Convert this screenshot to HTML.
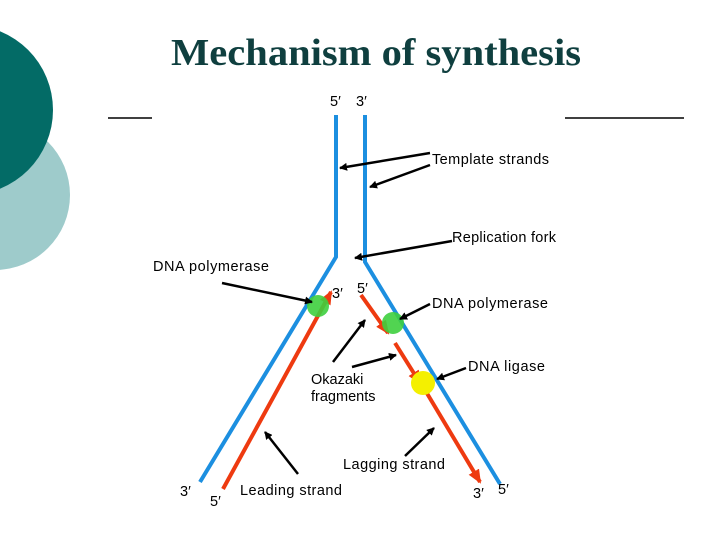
<!DOCTYPE html>
<html><head><style>
body{margin:0;width:720px;height:540px;background:#fff;overflow:hidden;font-family:"Liberation Sans",sans-serif}
</style></head><body>
<svg width="720" height="540" viewBox="0 0 720 540" xmlns="http://www.w3.org/2000/svg">
<defs>
<marker id="bk" markerWidth="8" markerHeight="8" refX="7" refY="4" orient="auto" markerUnits="userSpaceOnUse"><path d="M0,0 L8,4 L0,8 Z" fill="#000"/></marker>
<marker id="rd" markerWidth="14" markerHeight="12" refX="12" refY="6" orient="auto" markerUnits="userSpaceOnUse"><path d="M0,0 L14,6 L0,12 Z" fill="#ee3a10"/></marker>
</defs>
<circle cx="-5" cy="195" r="75" fill="#9ecbcb"/>
<circle cx="-32" cy="110" r="85" fill="#036b66"/>
<text x="376" y="65" text-anchor="middle" font-family="Liberation Serif,serif" font-weight="bold" font-size="38" fill="#0f3f3f" textLength="410" lengthAdjust="spacingAndGlyphs">Mechanism of synthesis</text>
<line x1="108" y1="118" x2="152" y2="118" stroke="#000" stroke-width="1.5"/>
<line x1="565" y1="118" x2="684" y2="118" stroke="#000" stroke-width="1.5"/>
<g fill="none" stroke="#1c8fe0" stroke-width="4">
<polyline points="336,115 336,257 200,482"/>
<polyline points="365,115 365,262 500,484"/>
</g>
<g stroke="#ee3a10" stroke-width="4" fill="none">
<line x1="223" y1="489" x2="331" y2="292" marker-end="url(#rd)"/>
<line x1="361" y1="295" x2="388" y2="333" marker-end="url(#rd)"/>
<line x1="395" y1="343" x2="420" y2="383" marker-end="url(#rd)"/>
<line x1="425" y1="390" x2="480" y2="482" marker-end="url(#rd)"/>
</g>
<circle cx="318" cy="306" r="11" fill="#3ecf3e" opacity="0.9"/>
<circle cx="393" cy="323" r="11" fill="#3ecf3e" opacity="0.9"/>
<circle cx="423" cy="383" r="12" fill="#f4f000"/>
<g stroke="#000" stroke-width="2.5" marker-end="url(#bk)">
<line x1="430" y1="153" x2="340" y2="168"/>
<line x1="430" y1="165" x2="370" y2="187"/>
<line x1="452" y1="241" x2="355" y2="258"/>
<line x1="222" y1="283" x2="312" y2="302"/>
<line x1="430" y1="304" x2="400" y2="319"/>
<line x1="333" y1="362" x2="365" y2="320"/>
<line x1="352" y1="367" x2="396" y2="355"/>
<line x1="466" y1="368" x2="437" y2="379"/>
<line x1="405" y1="456" x2="434" y2="428"/>
<line x1="298" y1="474" x2="265" y2="432"/>
</g>
<g font-size="14.5" fill="#000">
<text x="330" y="106">5′</text><text x="356" y="106">3′</text>
<text x="432" y="164" textLength="117">Template strands</text>
<text x="452" y="242" textLength="104">Replication fork</text>
<text x="153" y="271" textLength="116">DNA polymerase</text>
<text x="332" y="298">3′</text><text x="357" y="293">5′</text>
<text x="432" y="308" textLength="116">DNA polymerase</text>
<text x="468" y="371" textLength="77">DNA ligase</text>
<text x="311" y="384">Okazaki</text>
<text x="311" y="401">fragments</text>
<text x="343" y="469" textLength="102">Lagging strand</text>
<text x="240" y="495" textLength="102">Leading strand</text>
<text x="180" y="496">3′</text><text x="210" y="506">5′</text>
<text x="473" y="498">3′</text><text x="498" y="494">5′</text>
</g>
</svg>
</body></html>
